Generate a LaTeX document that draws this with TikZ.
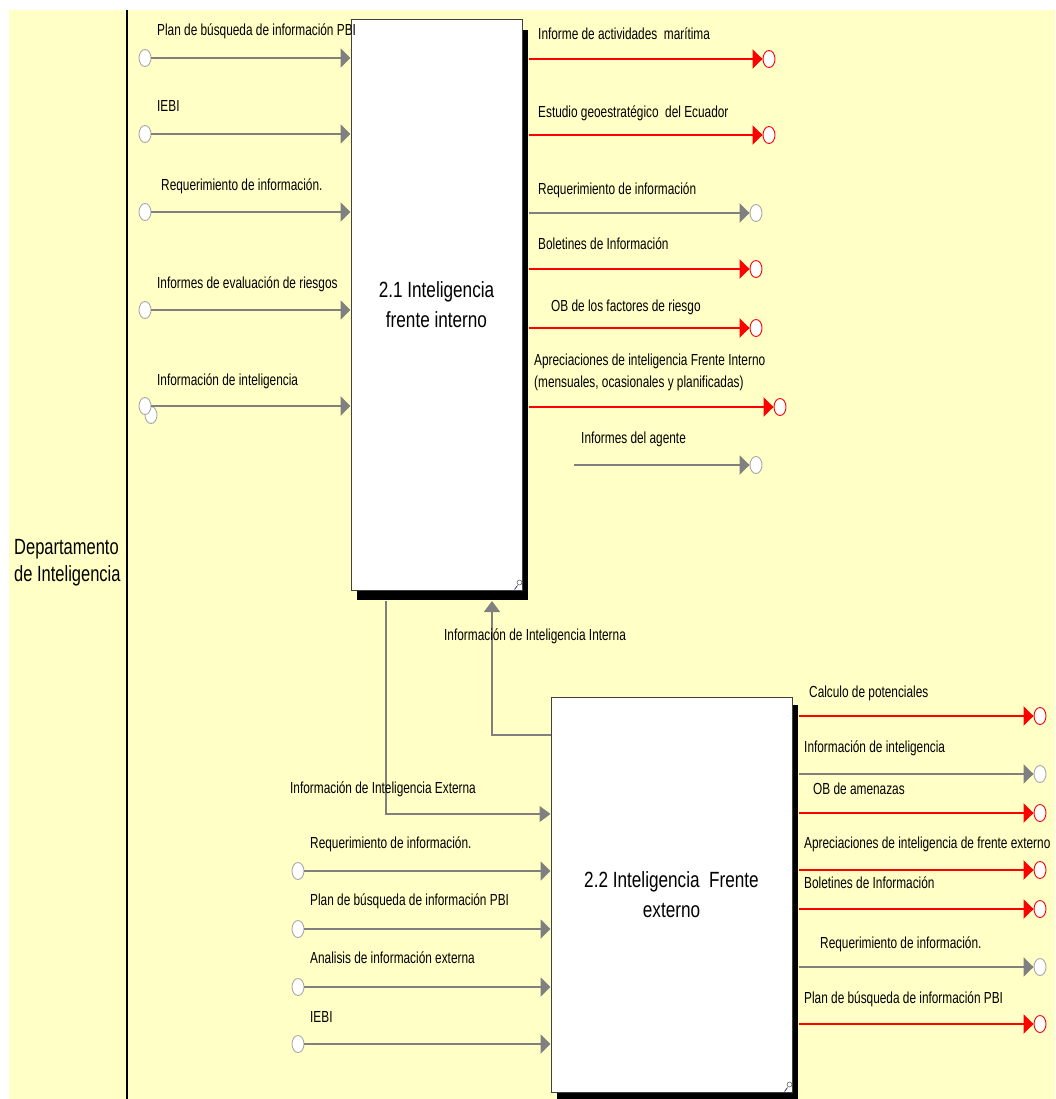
\documentclass[tikz,border=0pt]{standalone}
\usepackage{fontspec}
\setmainfont{Liberation Sans}
\newfontfamily\mylblfam[FakeStretch=0.74]{Liberation Sans}
\newfontfamily\myttlfam[FakeStretch=0.78]{Liberation Sans}
\newfontfamily\mydepfam[FakeStretch=0.75]{Liberation Sans}
\newcommand\mylbl{\mylblfam\fontsize{16}{22}\selectfont}
\newcommand\myttl{\myttlfam\fontsize{22}{30}\selectfont}
\newcommand\mydep{\mydepfam\fontsize{22}{30}\selectfont}
\usetikzlibrary{arrows.meta,shadows,shapes.geometric}
\definecolor{bgyellow}{HTML}{FFFFC6}
\definecolor{flowgray}{HTML}{808080}
\definecolor{portgray}{HTML}{A8A8A8}
\begin{document}
\begin{tikzpicture}[x=1pt,y=-1pt,
  lbl/.style={font=\mylbl, anchor=base west, inner sep=0pt, align=left},
  gport/.style={ellipse, draw=portgray, fill=white, line width=0.9pt, minimum width=12pt, minimum height=17pt, inner sep=0pt},
  rport/.style={gport, draw=red},
  gflow/.style={draw=flowgray, line width=2pt, -{Triangle[width=19pt,length=10pt]}},
  rflow/.style={draw=red, line width=2.2pt, -{Triangle[width=19pt,length=10pt]}},
  link/.style={draw=flowgray, line width=1.3pt, -{Triangle[width=16pt,length=11pt]}},
  proc/.style={draw=black!75, line width=1pt, fill=white, align=center, font=\myttl, inner sep=0pt},
  cornermark/.style={draw=black!60, fill=white, line width=0.6pt}
]
\useasboundingbox (0,0) rectangle (1055,1099);
\fill[white] (0,0) rectangle (1055,1099);
\fill[bgyellow] (9,10) rectangle (1055,1099);
\draw[black, line width=1.4pt] (127,10) -- (127,1099);

\node[font=\mydep, anchor=west, align=left, inner sep=0pt] (dept) at (14,563) {Departamento\\[-3pt]de Inteligencia};

% boxes
\node[proc, minimum width=171pt, minimum height=570pt,
      drop shadow={shadow xshift=6pt, shadow yshift=-10pt, opacity=1, fill=black}] (b1) at (436.5,305) {2.1 Inteligencia\\frente interno};
\node[proc, minimum width=241pt, minimum height=395pt,
      drop shadow={shadow xshift=6pt, shadow yshift=-8pt, opacity=1, fill=black}] (b2) at (671.5,894.5) {2.2 Inteligencia\ \ Frente\\externo};

\draw[cornermark] ([xshift=-3pt,yshift=8pt]b1.south east) circle (2.5pt);
\draw[blue!50!black, line width=0.6pt] ([xshift=-8pt,yshift=1pt]b1.south east) -- ([xshift=-5pt,yshift=5pt]b1.south east);
\draw[cornermark] ([xshift=-3pt,yshift=8pt]b2.south east) circle (2.5pt);
\draw[blue!50!black, line width=0.6pt] ([xshift=-8pt,yshift=1pt]b2.south east) -- ([xshift=-5pt,yshift=5pt]b2.south east);

% ---- inputs of box 1
\node[gport] (i1) at (145,58) {};
\node[gport] (i2) at (145,134) {};
\node[gport] (i3) at (145,212) {};
\node[gport] (i4) at (145,310) {};
\node[gport] (i5b) at (151,415) {};
\node[gport] (i5) at (145,406) {};
\draw[gflow] (i1.east) -- (i1 -| b1.west);
\draw[gflow] (i2.east) -- (i2 -| b1.west);
\draw[gflow] (i3.east) -- (i3 -| b1.west);
\draw[gflow] (i4.east) -- (i4 -| b1.west);
\draw[gflow, line width=2.6pt] (i5.east) -- (i5 -| b1.west);
\node[lbl] (li1) at (157,36) {Plan de búsqueda de información PBI};
\node[lbl] (li2) at (157,112) {IEBI};
\node[lbl] (li3) at (161,191) {Requerimiento de información.};
\node[lbl] (li4) at (157,288) {Informes de evaluación de riesgos};
\node[lbl] (li5) at (157,385) {Información de inteligencia};

% ---- outputs of box 1
\node[rport] (o1) at (769,59) {};
\node[rport] (o2) at (769,135) {};
\node[gport] (o3) at (756,213) {};
\node[rport] (o4) at (756,269) {};
\node[rport] (o5) at (756,328) {};
\node[rport] (o6) at (780,407) {};
\node[gport] (o7) at (756,465) {};
\coordinate (s7) at (574,465);
\draw[rflow] ([xshift=6pt]b1.east |- o1) -- (o1);
\draw[rflow] ([xshift=6pt]b1.east |- o2) -- (o2);
\draw[gflow] ([xshift=6pt]b1.east |- o3) -- (o3);
\draw[rflow] ([xshift=6pt]b1.east |- o4) -- (o4);
\draw[rflow] ([xshift=6pt]b1.east |- o5) -- (o5);
\draw[rflow] ([xshift=6pt]b1.east |- o6) -- (o6);
\draw[gflow] (s7) -- (o7);
\node[lbl] (lo1) at (538,40) {Informe de actividades\ \ marítima};
\node[lbl] (lo2) at (538,118) {Estudio geoestratégico\ \ del Ecuador};
\node[lbl] (lo3) at (538,195) {Requerimiento de información};
\node[lbl] (lo4) at (538,249) {Boletines de Información};
\node[lbl] (lo5) at (551,311) {OB de los factores de riesgo};
\node[lbl] (lo6) at (534,387) {Apreciaciones de inteligencia Frente Interno\\(mensuales, ocasionales y planificadas)};
\node[lbl] (lo7) at (581,443) {Informes del agente};

% ---- links between boxes
\coordinate (t1) at (492,601);
\coordinate (s2) at (386,601);
\draw[link] (b2.west |- 0,735) -| (t1);
\draw[link] (s2) |- (b2.west |- 0,814);
\node[lbl] (lint) at (444,640) {Información de Inteligencia Interna};
\node[lbl] (lext) at (290,793) {Información de Inteligencia Externa};

% ---- inputs of box 2
\node[gport] (j1) at (298,871) {};
\node[gport] (j2) at (298,929) {};
\node[gport] (j3) at (298,987) {};
\node[gport] (j4) at (298,1044) {};
\draw[gflow] (j1.east) -- (j1 -| b2.west);
\draw[gflow] (j2.east) -- (j2 -| b2.west);
\draw[gflow] (j3.east) -- (j3 -| b2.west);
\draw[gflow] (j4.east) -- (j4 -| b2.west);
\node[lbl] (lj1) at (310,848) {Requerimiento de información.};
\node[lbl] (lj2) at (310,905) {Plan de búsqueda de información PBI};
\node[lbl] (lj3) at (310,963) {Analisis de información externa};
\node[lbl] (lj4) at (310,1022) {IEBI};

% ---- outputs of box 2
\node[rport] (p1) at (1040,716) {};
\node[gport] (p2) at (1040,774) {};
\node[rport] (p3) at (1040,813) {};
\node[rport] (p4) at (1040,870) {};
\node[rport] (p5) at (1040,909) {};
\node[gport] (p6) at (1040,967) {};
\node[rport] (p7) at (1040,1024) {};
\draw[rflow] ([xshift=6pt]b2.east |- p1) -- (p1);
\draw[gflow] ([xshift=6pt]b2.east |- p2) -- (p2);
\draw[rflow] ([xshift=6pt]b2.east |- p3) -- (p3);
\draw[rflow] ([xshift=6pt]b2.east |- p4) -- (p4);
\draw[rflow] ([xshift=6pt]b2.east |- p5) -- (p5);
\draw[gflow] ([xshift=6pt]b2.east |- p6) -- (p6);
\draw[rflow] ([xshift=6pt]b2.east |- p7) -- (p7);
\node[lbl] (lp1) at (809,697) {Calculo de potenciales};
\node[lbl] (lp2) at (804,752) {Información de inteligencia};
\node[lbl] (lp3) at (813,794) {OB de amenazas};
\node[lbl] (lp4) at (804,848) {Apreciaciones de inteligencia de frente externo};
\node[lbl] (lp5) at (804,888) {Boletines de Información};
\node[lbl] (lp6) at (820,948) {Requerimiento de información.};
\node[lbl] (lp7) at (804,1003) {Plan de búsqueda de información PBI};
\end{tikzpicture}
\end{document}
